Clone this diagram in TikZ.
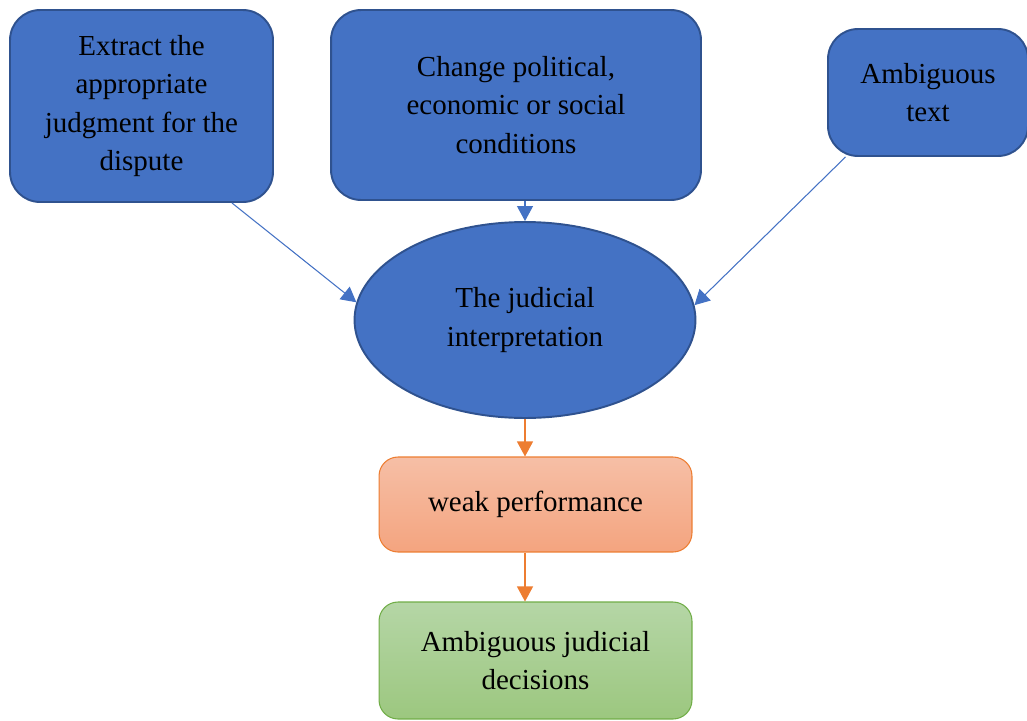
\documentclass[tikz,border=0pt]{standalone}
\usepackage{fontspec}
\setmainfont{Liberation Serif}
\usetikzlibrary{shapes.geometric,arrows.meta}
\definecolor{causeblue}{HTML}{4472C4}
\definecolor{causeline}{HTML}{2F528F}
\definecolor{weakline}{HTML}{ED7D31}
\definecolor{weaktop}{HTML}{F6BFA6}
\definecolor{weakbot}{HTML}{F4A47F}
\definecolor{decline}{HTML}{70AD47}
\definecolor{dectop}{HTML}{B5D6A6}
\definecolor{decbot}{HTML}{9CC77F}
\begin{document}
\begin{tikzpicture}
            [
                x = 0.02cm, y = -0.02cm,
                every node/.style = {align=center, inner sep=0pt,
                font=\fontsize{16.5}{21.9}\selectfont},
                cause/.style = {shape=rectangle, rounded corners=0.6cm,
                draw=causeline, line width=1.1pt, fill=causeblue},
                result/.style = {shape=rectangle, rounded corners=0.38cm,
                line width=0.6pt, minimum width=6.26cm},
                feed/.style = {draw=causeblue, line width=0.6pt,
                -{Triangle[length=0.3cm, width=0.32cm]}},
                flow/.style = {draw=weakline, line width=0.6pt,
                -{Triangle[length=0.3cm, width=0.32cm]}}
            ]
            \useasboundingbox (0,0) rectangle (1027,720);
            % causes
            \node [cause, minimum width=5.26cm, minimum height=3.84cm]
                (extract) at (141.5,106)
                {Extract the \\ appropriate \\ judgment for the \\ dispute};
            \node [cause, minimum width=7.4cm, minimum height=3.8cm]
                (change) at (516,105)
                {Change political, \\ economic or social \\ conditions};
            \node [cause, minimum width=4.0cm, minimum height=2.54cm]
                (ambig) at (928,92.5) {Ambiguous \\ text};
            % centre
            \node [shape=ellipse, draw=causeline, line width=1.1pt,
                fill=causeblue, minimum width=6.82cm, minimum height=3.92cm]
                (interp) at (525,320) {The judicial \\ interpretation};
            % outcome
            \node [result, draw=weakline, top color=weaktop,
                bottom color=weakbot, minimum height=1.9cm]
                (weak) at (535.5,504.5) {weak performance};
            \node [result, draw=decline, top color=dectop,
                bottom color=decbot, minimum height=2.34cm]
                (decis) at (535.5,660.5) {Ambiguous judicial \\ decisions};
            % connectors
            \draw [feed] (extract.-47.3) -- (interp.174.8);
            \draw [feed] (change.south -| interp.north) -- (interp.north);
            \draw [feed] (ambig.-142.6) -- (interp.5.8);
            \draw [flow] (interp.south) -- (interp.south |- weak.north);
            \draw [flow] (weak.south -| interp.south) -- (interp.south |- decis.north);
        \end{tikzpicture}
\end{document}
